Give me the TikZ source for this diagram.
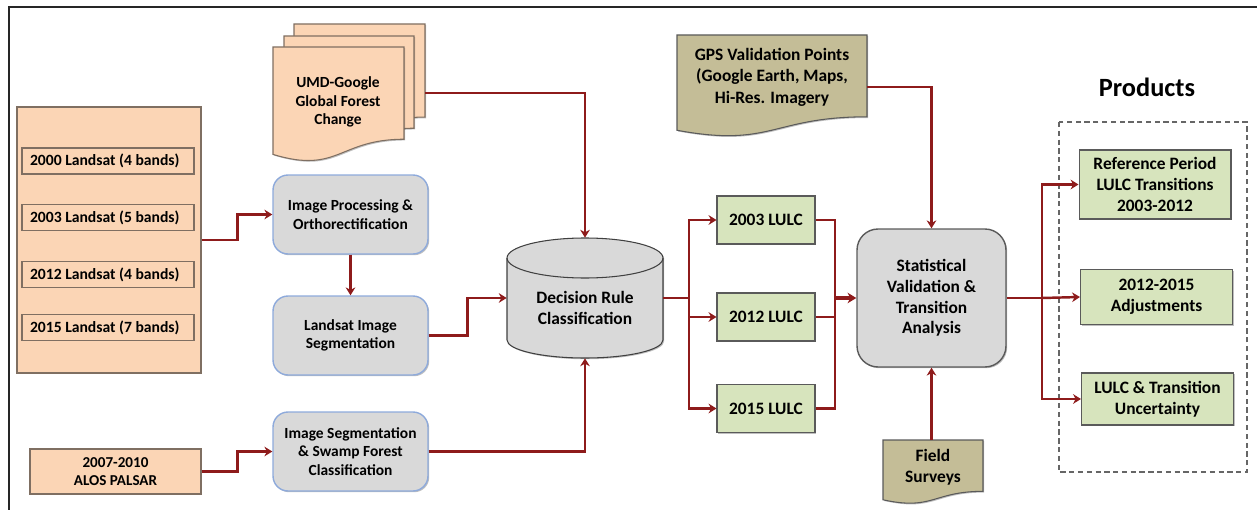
\documentclass[tikz,border=0pt]{standalone}
\usepackage{fontspec}
\setmainfont{Carlito}
\usetikzlibrary{arrows.meta,shadows,calc}
\definecolor{peach}{HTML}{FBD5B5}
\definecolor{peachline}{HTML}{7F6F62}
\definecolor{boxgray}{HTML}{D9D9D9}
\definecolor{blueline}{HTML}{8EAADB}
\definecolor{lgreen}{HTML}{D7E4BD}
\definecolor{tan}{HTML}{C4BD97}
\definecolor{dred}{HTML}{8E1B1B}
\definecolor{darkline}{HTML}{5A5A5A}
\newcommand\mydoc[5]{%
  \path[#1] (#2,#3) -- (#4,#3) -- (#4,{#3+0.802*#5})
    .. controls ({(#2+#4)/2},{#3+0.802*#5}) and ({(#2+#4)/2},{#3+1.107*#5}) ..
    (#2,{#3+0.934*#5}) -- cycle;}
\newcommand\bandtext[1]{\makebox[3.12cm][l]{#1}}
\begin{document}
\begin{tikzpicture}[x=0.02cm,y=-0.02cm,
  font=\fontsize{8.8}{10.6}\selectfont\bfseries,
  wide/.style={font=\fontsize{9.9}{11.8}\selectfont\bfseries},
  shd/.style={drop shadow={shadow xshift=0.7pt,shadow yshift=-0.7pt,fill=black,opacity=0.25}},
  peachbox/.style={draw=peachline,fill=peach,line width=0.6pt,shd},
  bandbox/.style={draw=peachline,fill=peach,line width=0.6pt,inner xsep=0.16cm,minimum height=0.52cm,inner ysep=0pt,font=\fontsize{8.9}{10.6}\selectfont\bfseries},
  procbox/.style={draw=blueline,fill=boxgray,line width=0.8pt,rounded corners=0.3cm,minimum width=3.1cm,minimum height=1.58cm,align=center,shd},
  lulc/.style={draw=darkline,fill=lgreen,line width=0.6pt,minimum width=1.96cm,minimum height=0.96cm,align=center,shd,wide},
  prod/.style={draw=darkline,fill=lgreen,line width=0.6pt,minimum width=3.04cm,align=center,shd,wide},
  docpeach/.style={draw=peachline,fill=peach,line width=0.6pt},
  doctan/.style={draw=darkline,fill=tan,line width=0.6pt,shd},
  conn/.style={draw=dred,line width=1.4pt},
  arr/.style={conn,-{Stealth[length=4.5pt,width=5.5pt]}},
  bigarr/.style={draw=dred,line width=2.4pt,-{Stealth[length=5pt,width=6pt]}}]

\useasboundingbox (0,0) rectangle (1257,510);
% frame
\draw[line width=1.4pt,black!85] (9,510) -- (9,7) -- (1257,7);

% Landsat group
\node[peachbox,minimum width=3.68cm,minimum height=5.32cm] (landsat) at (109,240) {};
\node[bandbox] (l2000) at (108,161) {\bandtext{2000 Landsat (4 bands)}};
\node[bandbox] (l2003) at (108,217.5) {\bandtext{2003 Landsat (5 bands)}};
\node[bandbox] (l2012) at (108,274.5) {\bandtext{2012 Landsat (4 bands)}};
\node[bandbox] (l2015) at (108,327.5) {\bandtext{2015 Landsat (7 bands)}};

% ALOS
\node[peachbox,minimum width=3.42cm,minimum height=0.9cm,align=center,font=\fontsize{8.6}{10.6}\selectfont\bfseries] (alos) at (115.5,471.5) {2007-2010\\ALOS PALSAR};

% processing boxes
\node[procbox] (imgproc) at (350.5,214.5) {Image Processing \&\\Orthorectification};
\node[procbox] (landseg) at (350.5,335.5) {Landsat Image\\Segmentation};
\node[procbox] (swamp) at (350.5,451.5) {Image Segmentation\\\& Swamp Forest\\Classification};

% UMD stacked documents
\mydoc{docpeach,shd}{294}{24}{425}{116}
\mydoc{docpeach,shd}{284}{36}{414}{115}
\mydoc{docpeach,shd}{273}{47}{404}{115}
\node[align=center] (umd) at (338,102) {UMD-Google\\Global Forest\\Change};
\coordinate (umdout) at (425,93);

% Decision cylinder
\path[fill=boxgray,draw=black!75,line width=0.6pt,shd] (507,258) -- (507,340) arc[start angle=180,end angle=0,x radius=78,y radius=18] -- (663,258) arc[start angle=0,end angle=-180,x radius=78,y radius=20] -- cycle;
\draw[black!75,line width=0.6pt] (507,258) arc[start angle=180,end angle=0,x radius=78,y radius=20];
\node[minimum width=3.12cm,minimum height=2.4cm] (dec) at (585,298) {};
\node[align=center,wide] (dectext) at (585,308) {Decision Rule\\Classification};

% LULC boxes
\node[lulc] (c2003) at (766,220) {2003 LULC};
\node[lulc] (c2012) at (766,317) {2012 LULC};
\node[lulc] (c2015) at (766,408.5) {2015 LULC};

% GPS document
\mydoc{doctan}{677}{35}{867}{102}
\node[align=center,font=\fontsize{9.9}{12.2}\selectfont\bfseries] (gps) at (772,77) {GPS Validation Points\\(Google Earth, Maps,\\Hi-Res. Imagery};
\coordinate (gpsout) at (867,87);

% Statistical box
\node[draw=darkline,fill=boxgray,line width=0.8pt,rounded corners=0.42cm,minimum width=2.98cm,minimum height=2.76cm,align=center,shd,wide] (stat) at (931.5,298) {Statistical\\Validation \&\\Transition\\Analysis};

% Field surveys
\mydoc{doctan}{883}{440}{983}{64}
\node[align=center,wide] (field) at (933,467) {Field\\Surveys};
\coordinate (fieldtop) at (931.5,440);

% Products
\node[font=\fontsize{15}{18}\selectfont\bfseries] (prodtitle) at (1147,87) {Products};
\draw[draw=black!60,line width=0.6pt,dash pattern=on 3pt off 2pt] (1059,122) rectangle (1247,472);
\node[prod,minimum height=1.38cm] (ref) at (1155,184.5) {Reference Period\\LULC Transitions\\2003-2012};
\node[prod,minimum height=1.1cm] (adj) at (1156.5,297) {2012-2015\\Adjustments};
\node[prod,minimum height=1.04cm] (unc) at (1157.5,399) {LULC \& Transition\\Uncertainty};

% connectors
\draw[arr] (landsat.east) -- ++(36,0) |- (imgproc.west);
\draw[arr] (alos.east) -- ++(36,0) |- (swamp.west);
\draw[arr] (imgproc.south) -- (landseg.north);
\draw[arr] (landseg.east) -- ++(39,0) |- (dec.west);
\draw[arr] (umdout) -| (dec.north);
\draw[arr] (swamp.east) -| (dec.south);

\coordinate (split) at (689,298);
\draw[conn] (dec.east) -- (split);
\draw[arr] (split) |- (c2003.west);
\draw[arr] (split) |- (c2012.west);
\draw[arr] (split) |- (c2015.west);

\coordinate (merge) at (835,298);
\draw[conn] (c2003.east) -| (merge);
\draw[conn] (c2012.east) -| (merge);
\draw[conn] (c2015.east) -| (merge);
\draw[bigarr] (merge) -- (stat.west);

\draw[arr] (gpsout) -| (stat.north);
\draw[arr] (fieldtop) -- (stat.south);

\coordinate (pout) at (1042,298);
\draw[conn] (stat.east) -- (pout);
\draw[arr] (pout) |- (ref.west);
\draw[arr] (pout) -- (adj.west);
\draw[arr] (pout) |- (unc.west);
\end{tikzpicture}
\end{document}
